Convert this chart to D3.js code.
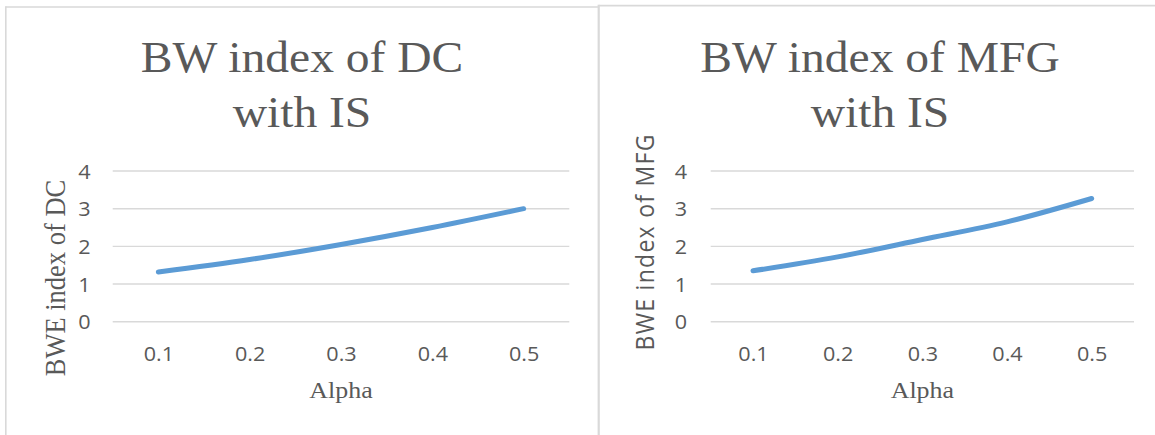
<!DOCTYPE html>
<html>
<head>
<meta charset="utf-8">
<script src="https://cdn.jsdelivr.net/npm/d3@7"></script>
<style>
  html, body { margin: 0; padding: 0; background: #ffffff; }
  svg { display: block; }
</style>
</head>
<body>
<svg id="chart" width="1155" height="435"></svg>
<script>
// Data
const alphaLabels = ["0.1", "0.2", "0.3", "0.4", "0.5"];
const dcValues = [1.32, 1.65, 2.05, 2.5, 3.0];
const mfgValues = [1.35, 1.72, 2.18, 2.65, 3.27];
const yTicks = [0, 1, 2, 3, 4];
const dcTitle = ["BW index of DC", "with IS"];
const mfgTitle = ["BW index of MFG", "with IS"];
const dcYLabel = "BWE index of DC";
const mfgYLabel = "BWE index of MFG";
const xLabel = "Alpha";

const svg = d3.select("#chart");
const textColor = "#595959";
const gridColor = "#d9d9d9";
const lineColor = "#5b9bd5";
const stretch = 1.08;
const serif = "'Liberation Serif', 'Times New Roman', serif";
const sans = "'Open Sans', 'Noto Sans', sans-serif";

// Panel frames
const frame = svg.append("g").attr("stroke", gridColor).attr("fill", "none");
frame.append("line").attr("x1", 5.5).attr("x2", 598.7).attr("y1", 7).attr("y2", 7).attr("stroke-width", 1.6);
frame.append("line").attr("x1", 5.8).attr("x2", 5.8).attr("y1", 6.2).attr("y2", 435).attr("stroke-width", 1.6);
frame.append("line").attr("x1", 598.7).attr("x2", 598.7).attr("y1", 4.8).attr("y2", 435).attr("stroke-width", 2.2);
frame.append("line").attr("x1", 598.7).attr("x2", 1155).attr("y1", 5.6).attr("y2", 5.6).attr("stroke-width", 1.6);

function drawPanel(opts) {
  const g = svg.append("g");
  const x = d3.scalePoint().domain(alphaLabels).range([opts.x0, opts.x1]).padding(0.5);
  const y = d3.scaleLinear().domain([0, 4]).range([321.7, 171]);

  // Title
  opts.title.forEach((t, i) => {
    g.append("text")
      .attr("transform", `translate(${opts.titleX},${72 + i * 54.5}) scale(${stretch},1)`)
      .attr("text-anchor", "middle")
      .attr("font-family", serif)
      .attr("font-size", 44)
      .attr("fill", textColor)
      .text(t);
  });

  // Horizontal gridlines
  g.append("g").selectAll("line").data(yTicks).join("line")
    .attr("x1", opts.x0).attr("x2", opts.x1)
    .attr("y1", d => y(d)).attr("y2", d => y(d))
    .attr("stroke", gridColor).attr("stroke-width", 1.4);

  // Y axis tick labels
  const yAxis = d3.axisLeft(y).tickValues(yTicks).tickFormat(d3.format("d")).tickSize(0).tickPadding(0);
  const ya = g.append("g").attr("transform", `translate(${opts.yTickX},0)`).call(yAxis);
  ya.select(".domain").remove();
  ya.selectAll("text")
    .attr("font-family", sans).attr("font-size", 20).attr("fill", textColor)
    .attr("x", null).attr("dy", "0.36em")
    .attr("transform", `scale(${stretch},1)`);

  // X axis tick labels
  const xAxis = d3.axisBottom(x).tickSize(0).tickPadding(0);
  const xa = g.append("g").attr("transform", "translate(0,361)").call(xAxis);
  xa.select(".domain").remove();
  xa.selectAll(".tick text")
    .attr("font-family", sans).attr("font-size", 20).attr("fill", textColor)
    .attr("y", 0).attr("dy", 0)
    .attr("transform", `scale(${stretch},1)`);

  // X axis title
  g.append("text")
    .attr("transform", `translate(${(opts.x0 + opts.x1) / 2},398) scale(${stretch},1)`)
    .attr("text-anchor", "middle")
    .attr("font-family", serif).attr("font-size", 24)
    .attr("fill", textColor)
    .text(xLabel);

  // Y axis title
  const yl = g.append("text")
    .attr("transform", `translate(${opts.yLabelX},${opts.yLabelY}) scale(${stretch},1) rotate(-90)`)
    .attr("text-anchor", "middle")
    .attr("font-family", opts.yLabelFont).attr("font-size", opts.yLabelSize)
    .attr("fill", textColor)
    .text(opts.yLabel);
  if (opts.yLabelLength) {
    yl.attr("textLength", opts.yLabelLength).attr("lengthAdjust", "spacing");
  }

  // Series line
  const line = d3.line()
    .x((d, i) => x(alphaLabels[i]))
    .y(d => y(d))
    .curve(d3.curveCatmullRom.alpha(0.5));
  g.append("path")
    .datum(opts.values)
    .attr("d", line)
    .attr("fill", "none")
    .attr("stroke", lineColor)
    .attr("stroke-width", 5)
    .attr("stroke-linecap", "round")
    .attr("stroke-linejoin", "round");
}

drawPanel({
  x0: 112.7, x1: 569.3, titleX: 302, title: dcTitle, values: dcValues,
  yTickX: 90.5, yLabel: dcYLabel, yLabelX: 65, yLabelY: 278,
  yLabelFont: serif, yLabelSize: 26.5
});

drawPanel({
  x0: 710.7, x1: 1134, titleX: 880, title: mfgTitle, values: mfgValues,
  yTickX: 687, yLabel: mfgYLabel, yLabelX: 654, yLabelY: 242.5,
  yLabelFont: sans, yLabelSize: 23, yLabelLength: 216
});
</script>
</body>
</html>
